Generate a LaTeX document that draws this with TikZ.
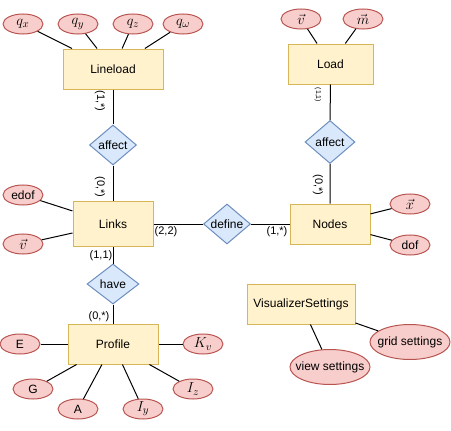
\documentclass[tikz,border=0pt]{standalone}
\usepackage{fontspec}
\setmainfont{Liberation Sans}
\usetikzlibrary{shapes.geometric}

\definecolor{entityfill}{HTML}{FFF2CC}
\definecolor{entityline}{HTML}{D6B656}
\definecolor{attrfill}{HTML}{F8CECC}
\definecolor{attrline}{HTML}{B85450}
\definecolor{relfill}{HTML}{DAE8FC}
\definecolor{relline}{HTML}{6C8EBF}

\tikzset{
  fixedsize/.style={execute at begin node=\hbox to 0pt\bgroup\hss, execute at end node=\hss\egroup},
  entity/.style={draw=entityline, fill=entityfill, line width=1pt, minimum width=80pt, minimum height=40pt, font=\fontsize{12}{14}\selectfont},
  attr/.style={ellipse, draw=attrline, fill=attrfill, line width=1pt, inner sep=0pt, minimum width=40pt, minimum height=20pt, fixedsize, font=\fontsize{12}{14}\selectfont},
  mattr/.style={attr, font=\fontsize{15}{18}\selectfont},
  rel/.style={diamond, draw=relline, fill=relfill, line width=1pt, inner sep=0pt, minimum width=47pt, minimum height=40pt, fixedsize, font=\fontsize{12}{14}\selectfont},
  card/.style={inner sep=0pt, font=\fontsize{11}{13}\selectfont},
  link/.style={draw=black, line width=1pt}
}

\begin{document}
\begin{tikzpicture}[x=1pt, y=-1pt]
\useasboundingbox (0,0) rectangle (451,431);

% entities
\node[entity, minimum width=100pt] (lineload) at (113,69) {Lineload};
\node[entity, minimum width=85pt] (load) at (330.5,64) {Load};
\node[entity, minimum height=45pt] (links) at (113,224) {Links};
\node[entity] (nodes) at (330,224) {Nodes};
\node[entity, minimum width=90pt] (profile) at (113,344) {Profile};
\node[entity, minimum width=108pt] (vis) at (301,304) {VisualizerSettings};

% relations
\node[rel] (affectL) at (113,145) {affect};
\node[rel, minimum width=50pt, minimum height=43pt] (affectN) at (330,142) {affect};
\node[rel] (define) at (227,224) {define};
\node[rel, minimum width=52pt] (have) at (113,284) {have};

% attributes
\node[mattr] (qx) at (23,24) {$q_x$};
\node[mattr] (qy) at (78,24) {$q_y$};
\node[mattr] (qz) at (133,24) {$q_z$};
\node[mattr] (qw) at (183,24) {$q_\omega$};
\node[mattr] (lv) at (301,19) {$\vec{v}$};
\node[mattr] (lm) at (363,19) {$\vec{m}$};
\node[attr] (edof) at (23,195) {edof};
\node[mattr] (kv) at (23,244) {$\vec{v}$};
\node[mattr] (nx) at (410,204) {$\vec{x}$};
\node[attr] (dof) at (410,245) {dof};
\node[attr] (pE) at (20,344) {E};
\node[mattr] (pK) at (203,344) {$K_v$};
\node[attr] (pG) at (33,389) {G};
\node[attr] (pA) at (78,409) {A};
\node[mattr] (pIy) at (143,409) {$I_y$};
\node[mattr] (pIz) at (193,389) {$I_z$};
\node[attr, minimum width=80pt, minimum height=35pt] (grid) at (410,342) {grid settings};
\node[attr, minimum width=80pt, minimum height=35pt] (view) at (330,367) {view settings};

% connectors
\foreach \a in {qx, qy, qz, qw} \draw[link] (\a) -- (lineload);
\foreach \a in {lv, lm} \draw[link] (\a) -- (load);
\foreach \a in {edof, kv} \draw[link] (\a) -- (links);
\foreach \a in {nx, dof} \draw[link] (\a) -- (nodes);
\foreach \a in {pE, pK, pG, pA, pIy, pIz} \draw[link] (\a) -- (profile);
\foreach \a in {grid, view} \draw[link] (\a) -- (vis);

\draw[link] (lineload) -- (affectL) -- (links);
\draw[link] (load) -- (affectN) -- (nodes);
\draw[link] (links) -- (define) -- (nodes);
\draw[link] (links) -- (have) -- (profile);

% cardinalities
\node[card, rotate=-90] at (100,101) {(1,*)};
\node[card, rotate=-90] at (100,187) {(0,*)};
\node[card, rotate=-90, font=\fontsize{7}{8}\selectfont] at (318,95) {(1,1)};
\node[card, rotate=-90] at (318,185) {(0,*)};
\node[card] at (166,232) {(2,2)};
\node[card] at (277,232) {(1,*)};
\node[card] at (101,256) {(1,1)};
\node[card] at (99,317) {(0,*)};

\end{tikzpicture}
\end{document}
